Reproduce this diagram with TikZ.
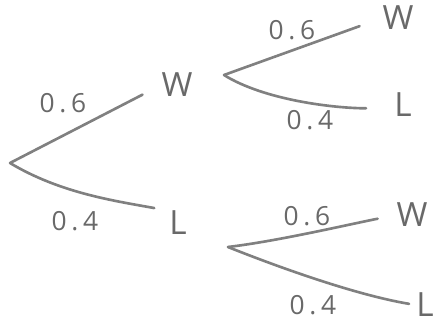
\documentclass[tikz,border=0pt]{standalone}
\usepackage{fontspec}
\setmainfont{Open Sans}
\definecolor{pencil}{RGB}{128,128,128}
\definecolor{pencilink}{RGB}{105,105,105}

\begin{document}
\begin{tikzpicture}[
    x=0.02cm, y=-0.02cm,
    branch/.style={draw=pencil, line width=1.5pt, line cap=round},
    outcome/.style={font=\fontsize{19}{19}\selectfont, text=pencilink, inner sep=0pt},
    problabel/.style={font=\fontsize{15}{15}\selectfont\addfontfeature{LetterSpace=18},
        text=pencilink, inner sep=0pt},
]

\useasboundingbox (0,0) rectangle (446,325);

% ── Branch points ───────────────────────────────────────────
\coordinate (root) at (10,163);
\coordinate (bw) at (224,75);   % after W
\coordinate (bl) at (228,247);  % after L

% ── Outcomes ────────────────────────────────────────────────
% First game
\node[outcome] (w1) at (177,85)  {W};
\node[outcome] (l1) at (178,223) {L};

% Second game
\node[outcome] (ww) at (398,18)  {W};
\node[outcome] (wl) at (403,105) {L};
\node[outcome] (lw) at (412,215) {W};
\node[outcome] (ll) at (425,305) {L};

% ── Branches ────────────────────────────────────────────────
\draw[branch, shorten >=0.42cm] (root) -- (w1.west);
\draw[branch, shorten >=0.3cm] (root)
    .. controls +(50,30) and +(-55,-10) .. (l1.north west);

\draw[branch, shorten >=0.48cm] (bw) -- (ww.west);
\draw[branch, shorten >=0.56cm] (bw)
    .. controls +(40,25) and +(-60,0) .. (wl.200);

\draw[branch, shorten >=0.38cm] (bl)
    .. controls +(50,-6) and +(-50,10) .. (lw.west);
\draw[branch, shorten >=0.14cm] (bl)
    .. controls +(50,20) and +(-60,-10) .. (ll.west);

% ── Probabilities ───────────────────────────────────────────
\node[problabel] (p1) at (63,103)  {0.6};
\node[problabel] (p2) at (75,221)  {0.4};
\node[problabel] (p3) at (292,30)  {0.6};
\node[problabel] (p4) at (310,120) {0.4};
\node[problabel] (p5) at (307,216) {0.6};
\node[problabel] (p6) at (313,305) {0.4};

\end{tikzpicture}
\end{document}
